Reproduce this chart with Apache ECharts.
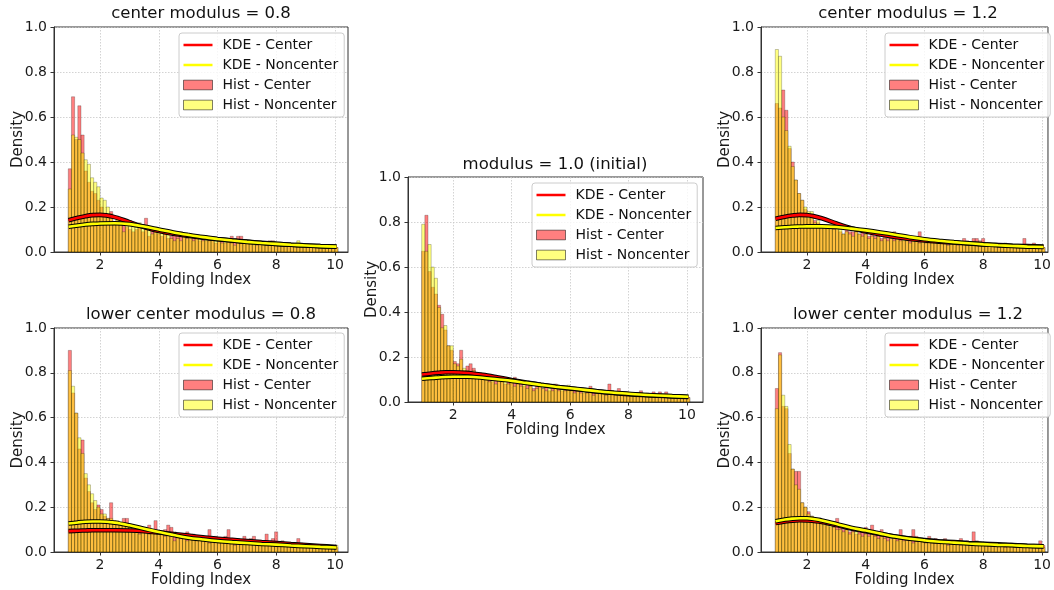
<!DOCTYPE html>
<html>
<head>
<meta charset="utf-8">
<script src="https://cdn.jsdelivr.net/npm/echarts@6/dist/echarts.min.js"></script>
<style>
  html, body { margin: 0; padding: 0; background: #ffffff; }
  #chart { width: 1054px; height: 590px; }
</style>
</head>
<body>
<div id="chart"></div>
<script>
// Histogram bins share one uniform width, starting at the smallest folding index
const binStart = 0.92;
const binWidth = 0.108;

const xTicks = [2, 4, 6, 8, 10];
const yTicks = [0, 0.2, 0.4, 0.6, 0.8, 1.0];

const panelTitles = [
  'center modulus = 0.8',
  'lower center modulus = 0.8',
  'modulus = 1.0 (initial)',
  'center modulus = 1.2',
  'lower center modulus = 1.2'
];

const seriesNames = ['KDE - Center', 'KDE - Noncenter', 'Hist - Center', 'Hist - Noncenter'];

// --- center modulus = 0.8 ---
const histCenterA = [
  0.37,0.69,0.50,0.65,0.52,0.36,0.31,0.27,0.26,0.23,
  0.20,0.17,0.15,0.18,0.13,0.14,0.13,0.12,0.11,0.10,
  0.09,0.10,0.11,0.09,0.15,0.07,0.10,0.09,0.08,0.07,
  0.08,0.06,0.07,0.09,0.08,0.09,0.08,0.07,0.06,0.07,
  0.06,0.05,0.06,0.05,0.06,0.05,0.04,0.06,0.05,0.04,
  0.05,0.07,0.06,0.07,0.07,0.05,0.04,0.04,0.03,0.04,
  0.04,0.03,0.04,0.05,0.05,0.04,0.03,0.04,0.03,0.03,
  0.04,0.03,0.03,0.04,0.03,0.03,0.02,0.03,0.03,0.02,
  0.03,0.02,0.03,0.02,0.02
];
const histNoncenterA = [
  0.28,0.52,0.51,0.50,0.44,0.41,0.39,0.33,0.31,0.29,
  0.24,0.23,0.20,0.17,0.12,0.16,0.14,0.09,0.13,0.14,
  0.12,0.11,0.13,0.11,0.10,0.10,0.08,0.11,0.10,0.09,
  0.08,0.09,0.06,0.05,0.06,0.05,0.07,0.06,0.07,0.05,
  0.07,0.06,0.05,0.06,0.05,0.06,0.06,0.05,0.04,0.06,
  0.05,0.04,0.03,0.05,0.04,0.04,0.05,0.04,0.04,0.03,
  0.04,0.04,0.03,0.04,0.03,0.04,0.04,0.03,0.03,0.04,
  0.03,0.03,0.05,0.03,0.03,0.02,0.03,0.03,0.02,0.03,
  0.03,0.02,0.02,0.03,0.02
];

// --- lower center modulus = 0.8 ---
const histCenterB = [
  0.90,0.71,0.62,0.46,0.50,0.33,0.27,0.22,0.19,0.21,
  0.19,0.16,0.15,0.22,0.14,0.13,0.12,0.15,0.15,0.11,
  0.12,0.10,0.09,0.10,0.09,0.12,0.09,0.14,0.08,0.09,
  0.10,0.12,0.11,0.09,0.08,0.07,0.08,0.09,0.07,0.08,
  0.06,0.07,0.06,0.05,0.10,0.06,0.07,0.06,0.05,0.07,
  0.10,0.06,0.05,0.06,0.05,0.07,0.05,0.06,0.07,0.05,
  0.04,0.05,0.08,0.05,0.06,0.09,0.04,0.05,0.03,0.04,
  0.03,0.04,0.06,0.04,0.03,0.03,0.03,0.02,0.03,0.03,
  0.03,0.02,0.02,0.03,0.02
];
const histNoncenterB = [
  0.81,0.74,0.62,0.51,0.44,0.35,0.30,0.26,0.23,0.20,
  0.17,0.17,0.15,0.15,0.14,0.14,0.13,0.12,0.12,0.11,
  0.10,0.10,0.08,0.10,0.09,0.08,0.10,0.08,0.09,0.09,
  0.07,0.08,0.07,0.05,0.07,0.06,0.07,0.05,0.06,0.07,
  0.05,0.06,0.06,0.05,0.04,0.05,0.06,0.04,0.05,0.04,
  0.05,0.04,0.03,0.05,0.04,0.04,0.05,0.04,0.04,0.03,
  0.04,0.03,0.04,0.03,0.04,0.03,0.04,0.03,0.03,0.03,
  0.02,0.03,0.03,0.02,0.03,0.03,0.02,0.03,0.02,0.02,
  0.03,0.02,0.02,0.02,0.03
];

// --- modulus = 1.0 (initial) ---
const histCenterC = [
  0.67,0.83,0.58,0.51,0.48,0.43,0.39,0.32,0.25,0.23,
  0.18,0.17,0.23,0.14,0.16,0.17,0.15,0.12,0.13,0.10,
  0.11,0.10,0.09,0.11,0.10,0.09,0.08,0.10,0.09,0.11,
  0.10,0.08,0.07,0.09,0.08,0.06,0.07,0.08,0.06,0.07,
  0.05,0.08,0.08,0.06,0.05,0.06,0.07,0.06,0.05,0.06,
  0.05,0.04,0.05,0.07,0.04,0.05,0.04,0.04,0.04,0.08,
  0.05,0.04,0.06,0.04,0.03,0.04,0.03,0.04,0.03,0.05,
  0.03,0.03,0.02,0.045,0.03,0.045,0.03,0.045,0.03,0.03,
  0.02,0.02,0.03,0.02,0.02
];
const histNoncenterC = [
  0.79,0.67,0.70,0.60,0.55,0.42,0.33,0.34,0.25,0.25,
  0.17,0.16,0.19,0.15,0.14,0.13,0.14,0.12,0.11,0.12,
  0.10,0.09,0.11,0.08,0.10,0.09,0.10,0.08,0.09,0.07,
  0.08,0.07,0.08,0.06,0.07,0.05,0.06,0.07,0.06,0.05,
  0.06,0.05,0.06,0.05,0.06,0.05,0.075,0.05,0.04,0.05,
  0.04,0.05,0.04,0.05,0.03,0.04,0.04,0.04,0.03,0.04,
  0.04,0.03,0.04,0.03,0.04,0.03,0.03,0.04,0.03,0.03,
  0.03,0.04,0.03,0.03,0.02,0.03,0.03,0.02,0.03,0.02,
  0.03,0.02,0.02,0.03,0.02
];

// --- center modulus = 1.2 ---
const histCenterD = [
  0.66,0.64,0.72,0.63,0.46,0.40,0.32,0.26,0.23,0.19,
  0.15,0.16,0.14,0.13,0.12,0.12,0.11,0.10,0.11,0.10,
  0.09,0.08,0.10,0.09,0.09,0.10,0.08,0.09,0.08,0.07,
  0.08,0.07,0.07,0.06,0.07,0.06,0.07,0.09,0.06,0.06,
  0.05,0.06,0.06,0.05,0.05,0.09,0.05,0.05,0.04,0.05,
  0.05,0.04,0.05,0.04,0.05,0.04,0.05,0.05,0.04,0.06,
  0.05,0.04,0.06,0.06,0.05,0.06,0.04,0.04,0.03,0.04,
  0.03,0.03,0.04,0.03,0.03,0.02,0.03,0.03,0.06,0.03,
  0.03,0.04,0.02,0.02,0.02
];
const histNoncenterD = [
  0.90,0.87,0.60,0.54,0.47,0.38,0.32,0.26,0.23,0.20,
  0.18,0.18,0.13,0.14,0.12,0.11,0.12,0.11,0.10,0.11,
  0.10,0.08,0.09,0.08,0.07,0.09,0.08,0.07,0.08,0.06,
  0.07,0.06,0.07,0.05,0.06,0.05,0.06,0.05,0.06,0.05,
  0.06,0.05,0.04,0.05,0.06,0.04,0.05,0.04,0.05,0.04,
  0.04,0.05,0.04,0.04,0.03,0.04,0.04,0.03,0.04,0.04,
  0.03,0.04,0.03,0.04,0.03,0.03,0.04,0.03,0.03,0.03,
  0.02,0.03,0.03,0.03,0.02,0.03,0.02,0.02,0.03,0.02,
  0.02,0.03,0.02,0.02,0.02
];

// --- lower center modulus = 1.2 ---
const histCenterE = [
  0.73,0.89,0.65,0.64,0.44,0.37,0.36,0.36,0.22,0.20,
  0.18,0.16,0.15,0.14,0.13,0.12,0.12,0.11,0.13,0.15,
  0.11,0.10,0.10,0.09,0.10,0.08,0.09,0.10,0.11,0.08,
  0.12,0.09,0.08,0.10,0.07,0.07,0.06,0.07,0.06,0.10,
  0.07,0.06,0.07,0.10,0.07,0.06,0.05,0.06,0.07,0.05,
  0.06,0.05,0.05,0.06,0.04,0.05,0.04,0.05,0.06,0.04,
  0.05,0.04,0.09,0.05,0.04,0.04,0.03,0.04,0.03,0.04,
  0.03,0.03,0.04,0.03,0.04,0.03,0.02,0.03,0.03,0.02,
  0.03,0.02,0.03,0.05,0.03
];
const histNoncenterE = [
  0.64,0.88,0.70,0.65,0.48,0.37,0.30,0.28,0.22,0.20,
  0.17,0.16,0.15,0.14,0.13,0.13,0.12,0.12,0.11,0.10,
  0.10,0.09,0.10,0.08,0.09,0.09,0.08,0.07,0.08,0.07,
  0.08,0.07,0.06,0.07,0.06,0.05,0.06,0.07,0.05,0.06,
  0.05,0.06,0.05,0.04,0.05,0.06,0.05,0.04,0.05,0.04,
  0.04,0.05,0.04,0.04,0.03,0.04,0.04,0.05,0.03,0.04,
  0.04,0.03,0.04,0.03,0.04,0.03,0.03,0.04,0.03,0.03,
  0.03,0.03,0.02,0.03,0.03,0.02,0.03,0.03,0.02,0.03,
  0.02,0.03,0.02,0.02,0.02
];

// Kernel density estimates, evaluated at these folding indices
const kdeX = [0.93, 1.25, 1.5, 1.75, 2.0, 2.5, 3.0, 3.5, 4.0, 4.5, 5.0, 5.5, 6.0, 6.5, 7.0, 7.5, 8.0, 8.5, 9.0, 9.5, 10.05];

const kdeCenterA    = [0.141,0.152,0.159,0.164,0.165,0.155,0.133,0.111,0.093,0.081,0.072,0.064,0.057,0.051,0.046,0.041,0.036,0.032,0.029,0.026,0.023];
const kdeNoncenterA = [0.112,0.118,0.122,0.125,0.127,0.128,0.124,0.113,0.100,0.087,0.076,0.066,0.058,0.051,0.045,0.040,0.036,0.032,0.029,0.026,0.024];

const kdeCenterB    = [0.093,0.095,0.096,0.097,0.097,0.097,0.096,0.093,0.087,0.080,0.073,0.066,0.059,0.054,0.049,0.044,0.040,0.035,0.031,0.027,0.022];
const kdeNoncenterB = [0.127,0.132,0.135,0.136,0.136,0.131,0.119,0.104,0.089,0.076,0.064,0.056,0.049,0.044,0.040,0.036,0.033,0.029,0.026,0.023,0.020];

const kdeCenterC    = [0.122,0.127,0.130,0.132,0.132,0.129,0.121,0.110,0.098,0.087,0.077,0.068,0.060,0.053,0.046,0.040,0.035,0.031,0.028,0.025,0.022];
const kdeNoncenterC = [0.103,0.107,0.109,0.111,0.112,0.112,0.108,0.101,0.094,0.085,0.076,0.068,0.061,0.054,0.047,0.041,0.037,0.032,0.029,0.026,0.023];

const kdeCenterD    = [0.148,0.157,0.162,0.165,0.164,0.150,0.127,0.106,0.091,0.078,0.067,0.058,0.051,0.046,0.042,0.038,0.034,0.031,0.028,0.026,0.024];
const kdeNoncenterD = [0.107,0.110,0.112,0.113,0.114,0.114,0.111,0.104,0.096,0.087,0.077,0.066,0.057,0.050,0.044,0.039,0.034,0.030,0.027,0.024,0.022];

const kdeCenterE    = [0.129,0.136,0.140,0.142,0.141,0.134,0.120,0.105,0.093,0.080,0.069,0.060,0.053,0.048,0.044,0.040,0.037,0.034,0.031,0.028,0.026];
const kdeNoncenterE = [0.137,0.145,0.149,0.151,0.151,0.141,0.125,0.108,0.096,0.082,0.069,0.059,0.052,0.046,0.042,0.038,0.035,0.032,0.030,0.027,0.025];

const panelData = [
  { histC: histCenterA, histN: histNoncenterA, kdeC: kdeCenterA, kdeN: kdeNoncenterA },
  { histC: histCenterB, histN: histNoncenterB, kdeC: kdeCenterB, kdeN: kdeNoncenterB },
  { histC: histCenterC, histN: histNoncenterC, kdeC: kdeCenterC, kdeN: kdeNoncenterC },
  { histC: histCenterD, histN: histNoncenterD, kdeC: kdeCenterD, kdeN: kdeNoncenterD },
  { histC: histCenterE, histN: histNoncenterE, kdeC: kdeCenterE, kdeN: kdeNoncenterE }
];

// Placement of the five subplots (pixels) and their x-axis extents
const frames = [
  { left: 54,  top: 27,  width: 294, height: 225, xMin: 0.434, xMax: 10.44, titleX: 201, titleY: 5,   legendX: 179, legendY: 33 },
  { left: 54,  top: 328, width: 294, height: 224, xMin: 0.434, xMax: 10.44, titleX: 201, titleY: 306, legendX: 179, legendY: 333 },
  { left: 408, top: 177, width: 295, height: 225, xMin: 0.451, xMax: 10.55, titleX: 555, titleY: 156, legendX: 532, legendY: 183 },
  { left: 761, top: 27,  width: 287, height: 225, xMin: 0.434, xMax: 10.20, titleX: 908, titleY: 5,   legendX: 885, legendY: 33 },
  { left: 761, top: 328, width: 287, height: 224, xMin: 0.434, xMax: 10.20, titleX: 908, titleY: 306, legendX: 885, legendY: 333 }
];

const FONT = 'DejaVu Sans';
const TEXT = '#1a1a1a';
const RED = '#ff0000';
const YELLOW = '#ffff00';
const RED_FILL = 'rgba(255,0,0,0.5)';
const YELLOW_FILL = 'rgba(255,255,0,0.5)';
const EDGE = 'rgba(0,0,0,0.42)';

function histItems(values) {
  return values.map((v, i) => [binStart + i * binWidth, binStart + (i + 1) * binWidth, v]);
}

function renderBin(fill) {
  return function (params, api) {
    const p0 = api.coord([api.value(0), 0]);
    const p1 = api.coord([api.value(1), api.value(2)]);
    return {
      type: 'rect',
      shape: { x: p0[0], y: p1[1], width: p1[0] - p0[0], height: p0[1] - p1[1] },
      style: { fill: fill, stroke: EDGE, lineWidth: 0.55 }
    };
  };
}

function kdeItems(values) {
  return kdeX.map((x, i) => [x, values[i]]);
}

const grids = [], xAxes = [], yAxes = [], titles = [], legends = [], series = [];

const lineIcon = 'path://M0,0H30V2.6H0Z';
const boxIcon = 'path://M0,0H30V10H0Z';

frames.forEach((f, k) => {
  const d = panelData[k];
  grids.push({
    left: f.left, top: f.top, width: f.width, height: f.height,
    show: true, borderColor: '#333', borderWidth: 1, backgroundColor: 'transparent'
  });
  xAxes.push({
    type: 'value', gridIndex: k, min: f.xMin, max: f.xMax,
    name: 'Folding Index', nameLocation: 'middle', nameGap: 21, nameMoveOverlap: false,
    nameTextStyle: { fontFamily: FONT, fontSize: 15, color: TEXT },
    axisLine: { show: true, onZero: false, lineStyle: { color: '#333', width: 1 } },
    axisTick: { show: true, length: 3.5, customValues: xTicks, lineStyle: { color: '#333' } },
    axisLabel: { customValues: xTicks, margin: 6, fontFamily: FONT, fontSize: 14, color: TEXT },
    splitLine: { show: true, lineStyle: { color: '#c8c8c8', type: [1.5, 1.5], width: 0.8 } }
  });
  yAxes.push({
    type: 'value', gridIndex: k, min: 0, max: 1, interval: 0.2,
    name: 'Density', nameLocation: 'middle', nameGap: 28, nameRotate: 90, nameMoveOverlap: false,
    nameTextStyle: { fontFamily: FONT, fontSize: 15, color: TEXT },
    axisLine: { show: true, lineStyle: { color: '#333', width: 1 } },
    axisTick: { show: true, length: 3.5, lineStyle: { color: '#333' } },
    axisLabel: { margin: 7, fontFamily: FONT, fontSize: 14, color: TEXT,
      formatter: v => v.toFixed(1) },
    splitLine: { show: true, lineStyle: { color: '#c8c8c8', type: [1.5, 1.5], width: 0.8 } }
  });
  titles.push({
    text: panelTitles[k], left: f.titleX, top: f.titleY, textAlign: 'center', padding: 0,
    textStyle: { fontFamily: FONT, fontSize: 16.5, fontWeight: 'normal', color: '#111' }
  });
  legends.push({
    left: f.legendX, top: f.legendY, orient: 'vertical',
    selectedMode: false, itemWidth: 29, itemHeight: 10, itemGap: 4,
    symbolKeepAspect: true,
    padding: [4, 6, 4, 4],
    backgroundColor: 'rgba(255,255,255,0.8)', borderColor: '#cccccc', borderWidth: 1, borderRadius: 3,
    textStyle: { fontFamily: FONT, fontSize: 14, color: '#111', lineHeight: 16, padding: [0, 0, 0, 5] },
    data: [
      { name: seriesNames[0], icon: lineIcon, itemStyle: { color: RED, borderWidth: 0 } },
      { name: seriesNames[1], icon: lineIcon, itemStyle: { color: YELLOW, borderWidth: 0 } },
      { name: seriesNames[2], icon: boxIcon, itemStyle: { color: RED_FILL, borderColor: 'rgba(0,0,0,0.5)', borderWidth: 1 } },
      { name: seriesNames[3], icon: boxIcon, itemStyle: { color: YELLOW_FILL, borderColor: 'rgba(0,0,0,0.5)', borderWidth: 1 } }
    ]
  });

  // histograms (center drawn first, noncenter over it)
  series.push({
    type: 'custom', name: seriesNames[2], xAxisIndex: k, yAxisIndex: k,
    renderItem: renderBin(RED_FILL), encode: { x: [0, 1], y: 2 },
    itemStyle: { color: RED_FILL }, data: histItems(d.histC), clip: true, silent: true, z: 1
  });
  series.push({
    type: 'custom', name: seriesNames[3], xAxisIndex: k, yAxisIndex: k,
    renderItem: renderBin(YELLOW_FILL), encode: { x: [0, 1], y: 2 },
    itemStyle: { color: YELLOW_FILL }, data: histItems(d.histN), clip: true, silent: true, z: 2
  });

  // KDE curves, each with a dark outline beneath
  [[d.kdeC, RED, seriesNames[0]], [d.kdeN, YELLOW, seriesNames[1]]].forEach(([vals, color, name], j) => {
    series.push({
      type: 'line', name: 'outline', xAxisIndex: k, yAxisIndex: k,
      data: kdeItems(vals), smooth: 0.35, showSymbol: false, symbol: 'none', silent: true,
      lineStyle: { color: '#000', width: 4.6 }, z: 3 + j * 2
    });
    series.push({
      type: 'line', name: name, xAxisIndex: k, yAxisIndex: k,
      data: kdeItems(vals), smooth: 0.35, showSymbol: false, symbol: 'none', silent: true,
      itemStyle: { color: color },
      lineStyle: { color: color, width: 2.6 }, z: 4 + j * 2
    });
  });
});

const chart = echarts.init(document.getElementById('chart'), null, { renderer: 'canvas' });
chart.setOption({
  animation: false,
  backgroundColor: '#ffffff',
  textStyle: { fontFamily: FONT },
  title: titles,
  legend: legends,
  grid: grids,
  xAxis: xAxes,
  yAxis: yAxes,
  series: series
});
</script>
</body>
</html>
